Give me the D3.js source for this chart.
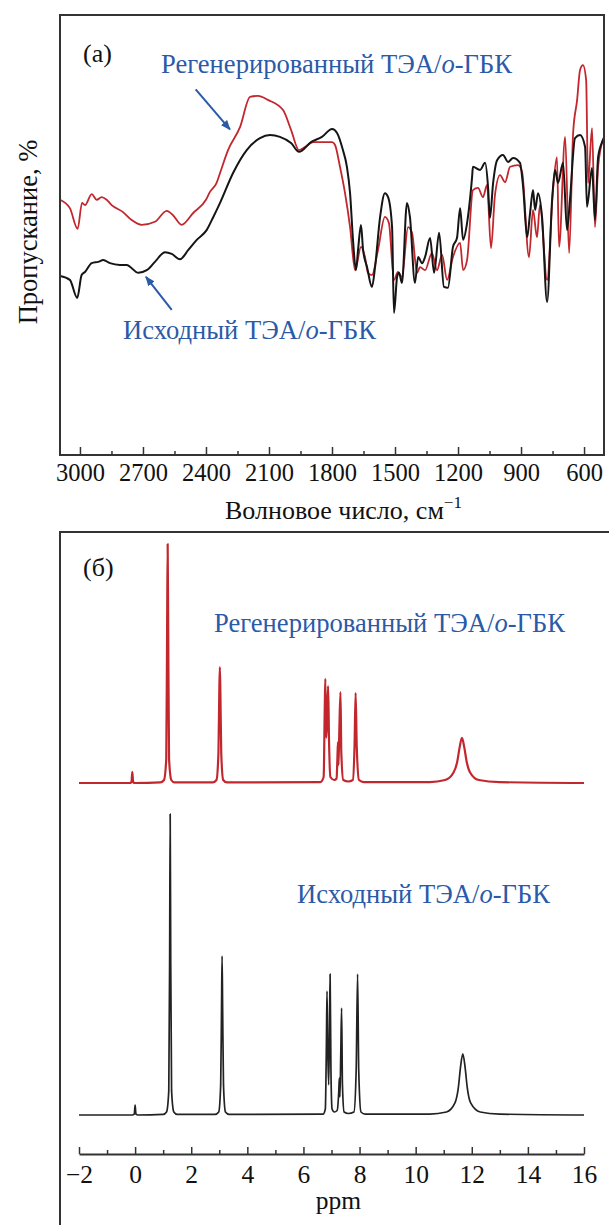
<!DOCTYPE html>
<html>
<head>
<meta charset="utf-8">
<script src="https://cdn.jsdelivr.net/npm/d3@7/dist/d3.min.js"></script>
<style>
  html, body { margin: 0; padding: 0; background: #fff; }
  svg { display: block; }
  text { font-family: "Liberation Serif", "Times New Roman", serif; }
</style>
</head>
<body>
<svg id="chart" width="609" height="1225"></svg>
<script>
// ---------- DATA ----------
// (a) IR spectra: [wavenumber cm^-1, transmission %]
const irInitial = [[3095,40.7],[3048,39.8],[3013,35.7],[2992,40.9],[2976,41.6],[2944,43.6],[2913,43.9],[2889,44.3],[2857,43.6],[2810,43.2],[2778,43.2],[2722,41.4],[2682,42.0],[2643,43.9],[2595,46.1],[2563,45.7],[2524,44.5],[2484,46.6],[2444,48.9],[2397,51.1],[2365,54.1],[2333,57.3],[2271,64.1],[2206,69.3],[2143,72.0],[2095,72.7],[2048,72.3],[1995,70.9],[1957,68.9],[1900,71.1],[1848,72.3],[1800,74.1],[1776,73.2],[1748,69.3],[1729,65.5],[1714,59.5],[1700,48.9],[1686,42.0],[1676,46.6],[1662,52.3],[1652,46.6],[1633,42.7],[1610,38.2],[1595,42.7],[1571,54.1],[1548,59.5],[1533,58.6],[1514,51.8],[1505,32.3],[1490,40.5],[1481,41.4],[1467,39.1],[1443,57.3],[1429,54.1],[1405,39.1],[1390,45.0],[1371,43.6],[1357,45.0],[1333,49.3],[1314,41.4],[1290,50.5],[1267,38.2],[1248,38.0],[1224,47.3],[1205,49.3],[1190,56.1],[1176,48.9],[1157,52.7],[1133,63.2],[1129,65.5],[1095,64.8],[1071,66.4],[1057,60.9],[1048,53.9],[1033,61.8],[1014,67.0],[986,68.2],[962,66.6],[938,67.5],[905,66.4],[890,60.9],[871,49.5],[857,55.0],[843,60.2],[833,55.7],[819,59.5],[800,54.1],[776,34.8],[752,58.0],[738,64.8],[724,61.8],[700,66.4],[681,51.1],[667,58.0],[643,72.0],[619,72.7],[595,70.0],[586,56.4],[562,65.2],[548,53.4],[533,67.7],[510,71.6],[500,72.7]];
const irRegenerated = [[3095,58.0],[3048,56.1],[3011,51.4],[2990,57.3],[2976,56.8],[2944,59.3],[2920,58.0],[2897,58.6],[2873,58.0],[2849,56.8],[2795,55.2],[2754,53.4],[2706,52.3],[2643,53.0],[2587,55.5],[2557,54.5],[2516,52.3],[2461,55.0],[2400,58.0],[2381,59.8],[2350,61.8],[2333,64.1],[2295,69.3],[2238,74.5],[2190,81.4],[2152,81.6],[2105,80.7],[2033,78.4],[1995,73.9],[1957,69.3],[1929,70.0],[1890,71.1],[1833,71.1],[1800,71.1],[1786,70.5],[1762,65.5],[1738,59.5],[1714,51.8],[1690,42.0],[1662,47.3],[1643,45.0],[1629,41.4],[1610,40.9],[1581,46.6],[1548,54.1],[1529,52.7],[1505,39.8],[1486,41.6],[1467,40.5],[1438,51.8],[1419,50.5],[1395,41.4],[1381,42.7],[1357,42.0],[1324,45.9],[1300,42.0],[1276,45.5],[1252,39.8],[1224,45.0],[1190,48.2],[1176,42.0],[1157,44.3],[1129,60.2],[1105,60.7],[1081,58.6],[1062,61.4],[1043,47.0],[1024,59.1],[1000,63.6],[976,62.0],[952,65.5],[914,65.9],[895,64.3],[862,45.0],[843,55.7],[824,49.5],[810,56.8],[776,39.8],[748,60.2],[729,67.7],[719,47.3],[690,72.3],[671,45.9],[652,73.2],[633,80.7],[619,87.5],[605,88.6],[590,85.2],[581,61.8],[562,74.3],[548,51.8],[533,65.5],[510,71.6]];
const irMajorTicks = [3000, 2700, 2400, 2100, 1800, 1500, 1200, 900, 600];
const irMinorTicks = [2850, 2550, 2250, 1950, 1650, 1350, 1050, 750];
// arrows: [tail wn, tail T, tip wn, tip T]
const irArrows = [[2449, 83.1, 2286, 74.0], [2563, 33.0, 2686, 40.5]];

// (б) 1H NMR spectra: [ppm, relative intensity]
const nmrInitial = [[-2,0],[-0.1,0],[-0.03,0.3],[0,3.3],[0.03,0.3],[0.1,0],
 [1.0,0.2],[1.12,1.0],[1.2,8],[1.23,50],[1.25,100],[1.27,50],[1.30,8],[1.38,1.0],[1.5,0.2],
 [2.85,0.2],[2.98,1.0],[3.05,10],[3.08,35],[3.10,52.8],[3.12,35],[3.15,10],[3.22,1.0],[3.35,0.2],
 [6.7,0.3],[6.78,2],[6.82,25],[6.84,41.2],[6.87,20],[6.90,10],[6.93,30],[6.95,46.8],[6.98,15],[7.02,2],[7.1,1],
 [7.2,1.5],[7.26,8],[7.28,12.3],[7.30,6],[7.33,20],[7.36,35.5],[7.39,10],[7.45,1],[7.6,0.5],
 [7.8,1],[7.88,15],[7.93,46.8],[7.97,15],[8.05,1],[8.2,0.3],
 [10.5,0.3],[11.1,1],[11.4,4],[11.52,9],[11.6,16],[11.68,20.3],[11.76,16],[11.84,9],[11.96,4],[12.3,1],[13,0.3],[16,0]];
const nmrRegenerated = [[-2,0],[-0.2,0],[-0.13,0.3],[-0.1,3.7],[-0.07,0.3],[0,0],
 [0.9,0.2],[1.03,1],[1.11,8],[1.14,50],[1.16,79.4],[1.18,50],[1.21,8],[1.29,1],[1.4,0.2],
 [2.77,0.2],[2.9,1],[2.97,10],[3.0,30],[3.02,38.5],[3.04,30],[3.07,10],[3.14,1],[3.27,0.2],
 [6.6,0.3],[6.72,2],[6.76,25],[6.78,34.6],[6.81,15],[6.84,20],[6.88,32.2],[6.91,15],[6.96,2],[7.1,1],
 [7.18,1.5],[7.21,8],[7.23,13.6],[7.25,6],[7.28,18],[7.32,30.2],[7.35,10],[7.42,1],[7.6,0.5],
 [7.76,1],[7.82,12],[7.86,29.9],[7.9,12],[7.98,1],[8.15,0.3],
 [10.5,0.3],[11.05,1],[11.35,3.5],[11.48,7],[11.57,12],[11.65,15],[11.73,12],[11.82,7],[11.94,3.5],[12.25,1],[13,0.3],[16,0]];
const nmrMajorTicks = [-2, 0, 2, 4, 6, 8, 10, 12, 14, 16];
const nmrMinorTicks = [-1, 1, 3, 5, 7, 9, 11, 13, 15];

// ---------- STYLE ----------
const BLUE = "#2a5aa8", RED = "#c1272d", BLACK = "#151515", FRAME = "#333";
const SERIF = "Liberation Serif";

const svg = d3.select("#chart");
const defs = svg.append("defs");
defs.append("marker").attr("id", "arrowhead")
  .attr("viewBox", "0 0 10 10").attr("refX", 9).attr("refY", 5)
  .attr("markerWidth", 5).attr("markerHeight", 5).attr("markerUnits", "strokeWidth")
  .attr("orient", "auto")
  .append("path").attr("d", "M0,1 L10,5 L0,9 Z").attr("fill", BLUE);

// ===== Panel (a) =====
const A = { left: 60, right: 604, top: 15, bottom: 455 };
const xIR = d3.scaleLinear().domain([3095, 505]).range([A.left, A.right]);
const yIR = d3.scaleLinear().domain([0, 100]).range([A.bottom, A.top]);

defs.append("clipPath").attr("id", "clipA").append("rect")
  .attr("x", A.left).attr("y", A.top).attr("width", A.right - A.left).attr("height", A.bottom - A.top);

const gA = svg.append("g");
const lineIR = d3.line().x(d => xIR(d[0])).y(d => yIR(d[1])).curve(d3.curveMonotoneX);
const plotA = gA.append("g").attr("clip-path", "url(#clipA)");
plotA.append("path").datum(irRegenerated).attr("d", lineIR)
  .attr("fill", "none").attr("stroke", RED).attr("stroke-width", 1.8).attr("stroke-linejoin", "round");
plotA.append("path").datum(irInitial).attr("d", lineIR)
  .attr("fill", "none").attr("stroke", BLACK).attr("stroke-width", 2).attr("stroke-linejoin", "round");

// axis ticks (inward)
const axA = gA.append("g").attr("transform", `translate(0,${A.bottom})`)
  .call(d3.axisBottom(xIR).tickValues(irMajorTicks).tickSizeInner(-8).tickSizeOuter(0).tickPadding(9).tickFormat(d3.format("d")));
axA.attr("font-family", SERIF);
axA.select(".domain").remove();
axA.selectAll(".tick line").attr("stroke", FRAME).attr("stroke-width", 1.5);
axA.selectAll("text").attr("font-size", 24.5).attr("fill", "#111").attr("font-family", SERIF);
const axAm = gA.append("g").attr("transform", `translate(0,${A.bottom})`)
  .call(d3.axisBottom(xIR).tickValues(irMinorTicks).tickSizeInner(-4).tickSizeOuter(0).tickFormat(""));
axAm.select(".domain").remove();
axAm.selectAll(".tick line").attr("stroke", FRAME).attr("stroke-width", 1.5);

// frame
gA.append("rect").attr("x", A.left).attr("y", A.top).attr("width", A.right - A.left).attr("height", A.bottom - A.top)
  .attr("fill", "none").attr("stroke", FRAME).attr("stroke-width", 2);

// labels
gA.append("text").attr("x", 83).attr("y", 62).attr("font-size", 26).attr("fill", "#111").text("(a)");
function blueLabel(g, x, y, main) {
  const t = g.append("text").attr("x", x).attr("y", y).attr("font-size", 26.6).attr("fill", BLUE);
  t.append("tspan").text(main + " ТЭА/");
  t.append("tspan").attr("font-style", "italic").text("o");
  t.append("tspan").text("-ГБК");
  return t;
}
blueLabel(gA, 161, 73, "Регенерированный");
blueLabel(gA, 123, 339, "Исходный");

irArrows.forEach(a => {
  gA.append("line").attr("x1", xIR(a[0])).attr("y1", yIR(a[1])).attr("x2", xIR(a[2])).attr("y2", yIR(a[3]))
    .attr("stroke", BLUE).attr("stroke-width", 2).attr("marker-end", "url(#arrowhead)");
});

gA.append("text").attr("transform", "translate(37,232) rotate(-90)").attr("text-anchor", "middle")
  .attr("font-size", 26.5).attr("fill", "#111").text("Пропускание, %");

const xt = gA.append("text").attr("x", 225).attr("y", 519).attr("font-size", 26).attr("fill", "#111");
xt.append("tspan").text("Волновое число, см");
xt.append("tspan").attr("font-size", 17).attr("dy", -11).text("−1");

// ===== Panel (б) =====
const B = { left: 60, top: 532 };
const xN = d3.scaleLinear().domain([-2, 16]).range([79, 584]);
const yLow = d3.scaleLinear().domain([0, 100]).range([1115, 814]);
const yUp = d3.scaleLinear().domain([0, 100]).range([783, 482]);
const gB = svg.append("g");

gB.append("path").attr("d", `M${B.left},1240 L${B.left},${B.top} L620,${B.top}`)
  .attr("fill", "none").attr("stroke", FRAME).attr("stroke-width", 2);

gB.append("path").datum(nmrRegenerated)
  .attr("d", d3.line().x(d => xN(d[0])).y(d => yUp(d[1])).curve(d3.curveMonotoneX))
  .attr("fill", "none").attr("stroke", RED).attr("stroke-width", 2.2).attr("stroke-linejoin", "round");
gB.append("path").datum(nmrInitial)
  .attr("d", d3.line().x(d => xN(d[0])).y(d => yLow(d[1])).curve(d3.curveMonotoneX))
  .attr("fill", "none").attr("stroke", "#222").attr("stroke-width", 1.7).attr("stroke-linejoin", "round");

const axB = gB.append("g").attr("transform", "translate(0,1154)")
  .call(d3.axisBottom(xN).tickValues(nmrMajorTicks).tickSizeInner(-7).tickSizeOuter(0).tickPadding(11));
axB.attr("font-family", SERIF);
axB.select(".domain").attr("stroke", FRAME).attr("stroke-width", 2);
axB.selectAll(".tick line").attr("stroke", FRAME).attr("stroke-width", 1.5);
axB.selectAll("text").attr("font-size", 25.5).attr("fill", "#111").attr("font-family", SERIF);
const axBm = gB.append("g").attr("transform", "translate(0,1154)")
  .call(d3.axisBottom(xN).tickValues(nmrMinorTicks).tickSizeInner(-4).tickSizeOuter(0).tickFormat(""));
axBm.select(".domain").remove();
axBm.selectAll(".tick line").attr("stroke", FRAME).attr("stroke-width", 1.5);

gB.append("text").attr("x", xN(7.25)).attr("y", 1209).attr("text-anchor", "middle")
  .attr("font-size", 25.5).attr("fill", "#111").text("ppm");
gB.append("text").attr("x", 83).attr("y", 576).attr("font-size", 26).attr("fill", "#111").text("(б)");
blueLabel(gB, 214, 632, "Регенерированный");
blueLabel(gB, 297, 903, "Исходный");
</script>
</body>
</html>
